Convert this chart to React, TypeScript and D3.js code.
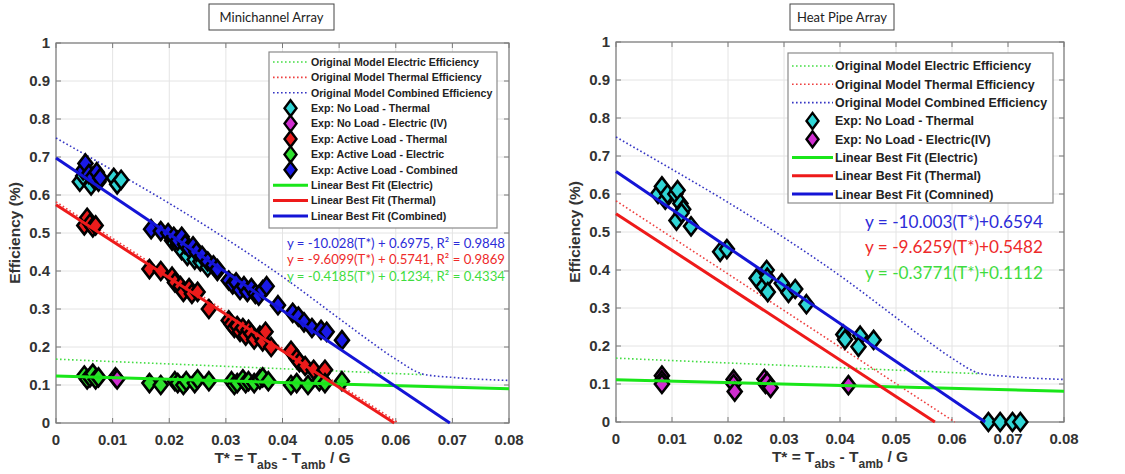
import React from 'react';
import * as d3 from 'd3';

type Pt = [number, number];

// ---------- axis ticks ----------
const xTickValues = [0, 0.01, 0.02, 0.03, 0.04, 0.05, 0.06, 0.07, 0.08];
const xTickLabels = ['0', '0.01', '0.02', '0.03', '0.04', '0.05', '0.06', '0.07', '0.08'];
const yTickValues = [0, 0.1, 0.2, 0.3, 0.4, 0.5, 0.6, 0.7, 0.8, 0.9, 1];
const yTickLabels = ['0', '0.1', '0.2', '0.3', '0.4', '0.5', '0.6', '0.7', '0.8', '0.9', '1'];

// ---------- original model curves (same in both panels) ----------
const modelElectric: Pt[] = [[0, 0.168], [0.065, 0.127]];
const modelThermal: Pt[] = [[0, 0.582], [0.0605, 0]];
const modelCombined: Pt[] = [
  [0, 0.75], [0.01, 0.665], [0.02, 0.578], [0.03, 0.485], [0.04, 0.385], [0.05, 0.275],
  [0.055, 0.22], [0.06, 0.168], [0.065, 0.128], [0.07, 0.12], [0.08, 0.112],
];

// ---------- Minichannel array data ----------
const miniNoLoadThermal: Pt[] = [
  [0.0042, 0.635], [0.0048, 0.65], [0.0062, 0.625], [0.0068, 0.64], [0.0075, 0.635],
  [0.0102, 0.645], [0.0108, 0.628], [0.0115, 0.64],
  [0.0205, 0.48], [0.0215, 0.47], [0.0222, 0.455], [0.0232, 0.44], [0.0245, 0.43],
  [0.0255, 0.425], [0.0268, 0.41], [0.0285, 0.40],
];
const miniNoLoadElectric: Pt[] = [[0.0105, 0.12], [0.0108, 0.115]];
const miniActiveThermal: Pt[] = [
  [0.005, 0.52], [0.0055, 0.54], [0.006, 0.525], [0.0065, 0.515], [0.007, 0.52],
  [0.0165, 0.405], [0.0185, 0.40], [0.0205, 0.385], [0.021, 0.37], [0.022, 0.36],
  [0.0225, 0.345], [0.0235, 0.355], [0.024, 0.34], [0.025, 0.345], [0.027, 0.30],
  [0.0305, 0.27], [0.031, 0.26], [0.0315, 0.25], [0.032, 0.255], [0.0325, 0.24],
  [0.033, 0.25], [0.0335, 0.23], [0.034, 0.245], [0.0345, 0.235], [0.035, 0.22],
  [0.036, 0.23], [0.0365, 0.215], [0.037, 0.24], [0.038, 0.20],
  [0.0415, 0.19], [0.0425, 0.17], [0.043, 0.16], [0.044, 0.15], [0.0455, 0.14],
  [0.047, 0.13], [0.0475, 0.14],
];
const miniActiveElectric: Pt[] = [
  [0.005, 0.125], [0.0055, 0.115], [0.006, 0.12], [0.0065, 0.13], [0.007, 0.115], [0.0075, 0.12],
  [0.0165, 0.105], [0.0185, 0.10], [0.021, 0.11], [0.0215, 0.105], [0.0225, 0.10],
  [0.023, 0.11], [0.0245, 0.105], [0.025, 0.115], [0.027, 0.11],
  [0.031, 0.11], [0.0315, 0.10], [0.032, 0.105], [0.033, 0.115], [0.0335, 0.105],
  [0.034, 0.11], [0.035, 0.105], [0.036, 0.115], [0.0365, 0.12], [0.0375, 0.11],
  [0.0415, 0.10], [0.0425, 0.105], [0.0445, 0.10], [0.0465, 0.11], [0.0475, 0.105], [0.0505, 0.11],
];
const miniActiveCombined: Pt[] = [
  [0.0048, 0.665], [0.0052, 0.683], [0.0058, 0.655], [0.0065, 0.648], [0.0072, 0.66], [0.0078, 0.645],
  [0.0168, 0.51], [0.0185, 0.505], [0.0198, 0.50], [0.0208, 0.49], [0.0215, 0.48],
  [0.0222, 0.49], [0.0228, 0.47], [0.0235, 0.46], [0.0242, 0.465], [0.0248, 0.45],
  [0.0258, 0.44], [0.0268, 0.425], [0.0278, 0.415], [0.0285, 0.405],
  [0.0305, 0.375], [0.0312, 0.365], [0.0318, 0.37], [0.0325, 0.35], [0.0332, 0.36],
  [0.0338, 0.345], [0.0345, 0.355], [0.0352, 0.34], [0.0358, 0.335], [0.0365, 0.35], [0.0372, 0.36],
  [0.0392, 0.31], [0.0418, 0.29], [0.0428, 0.28], [0.0438, 0.265], [0.0452, 0.25],
  [0.0468, 0.245], [0.0478, 0.24], [0.0505, 0.218],
];
// linear fits [slope, intercept]
const miniFitElectric: Pt = [-0.4185, 0.1234];
const miniFitThermal: Pt = [-9.6099, 0.5741];
const miniFitCombined: Pt = [-10.028, 0.6975];
const miniEquations = [
  'y = -10.028(T*) + 0.6975, R² = 0.9848',
  'y = -9.6099(T*) + 0.5741, R² = 0.9869',
  'y = -0.4185(T*) + 0.1234, R² = 0.4334',
];

// ---------- Heat pipe array data ----------
const heatNoLoadThermal: Pt[] = [
  [0.0075, 0.60], [0.0082, 0.62], [0.0088, 0.585], [0.0092, 0.60], [0.0106, 0.60],
  [0.011, 0.61], [0.0115, 0.575], [0.012, 0.56], [0.0108, 0.53], [0.0117, 0.55], [0.0134, 0.515],
  [0.0186, 0.448], [0.0198, 0.455], [0.0251, 0.378], [0.0263, 0.356], [0.0269, 0.40],
  [0.027, 0.38], [0.0271, 0.342], [0.0296, 0.365], [0.0308, 0.34], [0.032, 0.35], [0.034, 0.31],
  [0.0406, 0.23], [0.0409, 0.217], [0.0436, 0.227], [0.0433, 0.198], [0.046, 0.216],
  [0.0665, 0], [0.0686, 0], [0.0708, 0], [0.0722, 0],
];
const heatNoLoadElectric: Pt[] = [
  [0.0082, 0.122], [0.0082, 0.11], [0.0082, 0.10],
  [0.021, 0.112], [0.021, 0.10], [0.0212, 0.08],
  [0.0265, 0.113], [0.0267, 0.10], [0.027, 0.105], [0.0276, 0.09],
  [0.0415, 0.097],
];
const heatFitElectric: Pt = [-0.3771, 0.1112];
const heatFitThermal: Pt = [-9.6259, 0.5482];
const heatFitCombined: Pt = [-10.003, 0.6594];
const heatEquations = [
  'y = -10.003(T*)+0.6594',
  'y = -9.6259(T*)+0.5482',
  'y = -0.3771(T*)+0.1112',
];

// ---------- colours ----------
const COL = {
  green: '#19e619',
  red: '#ee1a1a',
  blue: '#1414d6',
  gDot: '#44dd44',
  rDot: '#ee4040',
  bDot: '#3535c4',
  cyan: '#30d5d5',
  magenta: '#d02ed0',
  mRed: '#ea1c1c',
  mGreen: '#2ee02e',
  mBlue: '#1a1ae8',
  eqBlue: '#2c2cd8',
  eqRed: '#ee2a2a',
  eqGreen: '#3fdc3f',
};

type LegendItem = { kind: 'dot' | 'marker' | 'line'; color: string; label: string };

const miniLegend: LegendItem[] = [
  { kind: 'dot', color: COL.gDot, label: 'Original Model Electric Efficiency' },
  { kind: 'dot', color: COL.rDot, label: 'Original Model Thermal Efficiency' },
  { kind: 'dot', color: COL.bDot, label: 'Original Model Combined Efficiency' },
  { kind: 'marker', color: COL.cyan, label: 'Exp: No Load - Thermal' },
  { kind: 'marker', color: COL.magenta, label: 'Exp: No Load - Electric (IV)' },
  { kind: 'marker', color: COL.mRed, label: 'Exp: Active Load - Thermal' },
  { kind: 'marker', color: COL.mGreen, label: 'Exp: Active Load - Electric' },
  { kind: 'marker', color: COL.mBlue, label: 'Exp: Active Load - Combined' },
  { kind: 'line', color: COL.green, label: 'Linear Best Fit (Electric)' },
  { kind: 'line', color: COL.red, label: 'Linear Best Fit (Thermal)' },
  { kind: 'line', color: COL.blue, label: 'Linear Best Fit (Combined)' },
];
const heatLegend: LegendItem[] = [
  { kind: 'dot', color: COL.gDot, label: 'Original Model Electric Efficiency' },
  { kind: 'dot', color: COL.rDot, label: 'Original Model Thermal Efficiency' },
  { kind: 'dot', color: COL.bDot, label: 'Original Model Combined Efficiency' },
  { kind: 'marker', color: COL.cyan, label: 'Exp: No Load - Thermal' },
  { kind: 'marker', color: COL.magenta, label: 'Exp: No Load - Electric(IV)' },
  { kind: 'line', color: COL.green, label: 'Linear Best Fit (Electric)' },
  { kind: 'line', color: COL.red, label: 'Linear Best Fit (Thermal)' },
  { kind: 'line', color: COL.blue, label: 'Linear Best Fit (Comnined)' },
];

const diamond = (hw: number, hh: number) => `M0,${-hh}L${hw},0L0,${hh}L${-hw},0Z`;

type PanelProps = {
  title: string;
  left: number; right: number; top: number; bottom: number;
  titleBox: { x: number; y: number; w: number; h: number };
  scatter: { data: Pt[]; fill: string }[];
  fits: { coef: Pt; color: string }[];
  legend: LegendItem[];
  legendBox: { x: number; y: number; w: number; h: number; row0: number; step: number; fs: number; lx0: number; lx1: number; tx: number };
  equations: string[];
  eqColors: string[];
  eqLayout: { xEnd: number; ys: number[]; fs: number; widths: number[] };
};

const FONT_AX = '"Liberation Sans", Arial, sans-serif';
const FONT_EQ = 'Lato, "Open Sans", sans-serif';

function Panel(p: PanelProps) {
  const x = d3.scaleLinear().domain([0, 0.08]).range([p.left, p.right]);
  const y = d3.scaleLinear().domain([0, 1]).range([p.bottom, p.top]);
  const straight = d3.line<Pt>().x((d) => x(d[0])).y((d) => y(d[1]));
  const smooth = d3.line<Pt>().x((d) => x(d[0])).y((d) => y(d[1])).curve(d3.curveMonotoneX);
  const fitPts = (c: Pt): Pt[] => {
    const root = -c[1] / c[0];
    const xe = root > 0 ? Math.min(0.08, root) : 0.08;
    return [[0, c[1]], [xe, c[0] * xe + c[1]]];
  };
  const lb = p.legendBox;
  const tickLen = 5;
  const dotDash = '1.6,2.4';
  return (
    <g>
      <rect x={p.left} y={p.top} width={p.right - p.left} height={p.bottom - p.top} fill="#fff" />
      {xTickValues.map((v, i) => (
        <line key={'gx' + i} x1={x(v)} x2={x(v)} y1={p.top} y2={p.bottom} stroke="#e4e4e4" strokeWidth={1} />
      ))}
      {yTickValues.map((v, i) => (
        <line key={'gy' + i} x1={p.left} x2={p.right} y1={y(v)} y2={y(v)} stroke="#e4e4e4" strokeWidth={1} />
      ))}
      {/* frame and ticks */}
      <rect x={p.left} y={p.top} width={p.right - p.left} height={p.bottom - p.top} fill="none" stroke="#7a7a7a" strokeWidth={1.2} />
      {xTickValues.map((v, i) => (
        <g key={'tx' + i}>
          <line x1={x(v)} x2={x(v)} y1={p.bottom} y2={p.bottom - tickLen} stroke="#7a7a7a" />
          <line x1={x(v)} x2={x(v)} y1={p.top} y2={p.top + tickLen} stroke="#7a7a7a" />
          <text x={x(v)} y={p.bottom + 22} textAnchor="middle" fontFamily={FONT_AX} fontWeight="bold" fontSize={15} fill="#333">
            {xTickLabels[i]}
          </text>
        </g>
      ))}
      {yTickValues.map((v, i) => (
        <g key={'ty' + i}>
          <line x1={p.left} x2={p.left + tickLen} y1={y(v)} y2={y(v)} stroke="#7a7a7a" />
          <line x1={p.right} x2={p.right - tickLen} y1={y(v)} y2={y(v)} stroke="#7a7a7a" />
          <text x={p.left - 6} y={y(v) + 5} textAnchor="end" fontFamily={FONT_AX} fontWeight="bold" fontSize={15} fill="#333">
            {yTickLabels[i]}
          </text>
        </g>
      ))}
      {/* model curves */}
      <path d={straight(modelElectric) || ''} fill="none" stroke={COL.gDot} strokeWidth={1.6} strokeDasharray={dotDash} />
      <path d={straight(modelThermal) || ''} fill="none" stroke={COL.rDot} strokeWidth={1.6} strokeDasharray={dotDash} />
      <path d={smooth(modelCombined) || ''} fill="none" stroke={COL.bDot} strokeWidth={1.6} strokeDasharray={dotDash} />
      {/* scatter */}
      {p.scatter.map((s, si) => (
        <g key={'s' + si}>
          {s.data.map((d, i) => (
            <path key={i} d={diamond(7, 9)} transform={`translate(${x(d[0])},${y(d[1])})`}
              fill={s.fill} stroke="#000" strokeWidth={2.6} strokeLinejoin="miter" />
          ))}
        </g>
      ))}
      {/* fits */}
      {p.fits.map((f, i) => (
        <path key={'f' + i} d={straight(fitPts(f.coef)) || ''} fill="none" stroke={f.color} strokeWidth={3} />
      ))}
      {/* axis labels */}
      <text transform={`translate(${p.left - 36},${y(0.5)}) rotate(-90)`} textAnchor="middle" fontFamily={FONT_AX}
        fontWeight="bold" fontSize={15.5} fill="#333">Efficiency (%)</text>
      <text x={(p.left + p.right) / 2} y={p.bottom + 40} textAnchor="middle" fontFamily={FONT_AX} fontWeight="bold" fontSize={15.5} fill="#333">
        T* = T<tspan fontSize={12} dy={5.5}>abs</tspan><tspan dy={-5.5}> - T</tspan><tspan fontSize={12} dy={5.5}>amb</tspan><tspan dy={-5.5}> / G</tspan>
      </text>
      {/* legend */}
      <rect x={lb.x} y={lb.y} width={lb.w} height={lb.h} fill="#fff" stroke="#8a8a8a" strokeWidth={1.2} />
      {p.legend.map((it, i) => {
        const yy = lb.row0 + i * lb.step;
        const mx = (lb.lx0 + lb.lx1) / 2;
        return (
          <g key={'lg' + i}>
            {it.kind === 'dot' && (
              <line x1={lb.lx0} x2={lb.lx1} y1={yy} y2={yy} stroke={it.color} strokeWidth={1.6} strokeDasharray={dotDash} />
            )}
            {it.kind === 'line' && (
              <line x1={lb.lx0} x2={lb.lx1} y1={yy} y2={yy} stroke={it.color} strokeWidth={3} />
            )}
            {it.kind === 'marker' && (
              <path d={diamond(6, 8)} transform={`translate(${mx},${yy})`} fill={it.color} stroke="#000" strokeWidth={2.4} />
            )}
            <text x={lb.tx} y={yy + lb.fs * 0.36} fontFamily={FONT_AX} fontWeight="bold" fontSize={lb.fs} fill="#222">
              {it.label}
            </text>
          </g>
        );
      })}
      {/* equations */}
      {p.equations.map((eq, i) => (
        <text key={'eq' + i} x={p.eqLayout.xEnd} y={p.eqLayout.ys[i] + p.eqLayout.fs * 0.35} textAnchor="end"
          fontFamily={FONT_EQ} fontSize={p.eqLayout.fs} fill={p.eqColors[i]}
          textLength={p.eqLayout.widths[i]} lengthAdjust="spacingAndGlyphs">
          {eq}
        </text>
      ))}
      {/* title box */}
      <rect x={p.titleBox.x} y={p.titleBox.y} width={p.titleBox.w} height={p.titleBox.h} fill="#fff" stroke="#444" strokeWidth={1} />
      <text x={p.titleBox.x + p.titleBox.w / 2} y={p.titleBox.y + p.titleBox.h / 2 + 4.5} textAnchor="middle"
        fontFamily={FONT_EQ} fontSize={13} fill="#222">{p.title}</text>
    </g>
  );
}

export default function App() {
  return (
    <svg width={1125} height={474} viewBox="0 0 1125 474"
      style={{ position: 'absolute', left: 0, top: 0, background: '#fff' }}>
      <rect x={0} y={0} width={1125} height={474} fill="#fff" />
      <Panel
        title="Minichannel Array"
        left={56} right={509} top={43} bottom={423}
        titleBox={{ x: 209, y: 4, w: 125, h: 26 }}
        scatter={[
          { data: miniNoLoadThermal, fill: COL.cyan },
          { data: miniNoLoadElectric, fill: COL.magenta },
          { data: miniActiveThermal, fill: COL.mRed },
          { data: miniActiveElectric, fill: COL.mGreen },
          { data: miniActiveCombined, fill: COL.mBlue },
        ]}
        fits={[
          { coef: miniFitElectric, color: COL.green },
          { coef: miniFitThermal, color: COL.red },
          { coef: miniFitCombined, color: COL.blue },
        ]}
        legend={miniLegend}
        legendBox={{ x: 269, y: 52, w: 228, h: 176, row0: 62, step: 15.4, fs: 10.6, lx0: 273, lx1: 308, tx: 311 }}
        equations={miniEquations}
        eqColors={[COL.eqBlue, COL.eqRed, COL.eqGreen]}
        eqLayout={{ xEnd: 505, ys: [243, 259.5, 276], fs: 14, widths: [218, 218, 218] }}
      />
      <Panel
        title="Heat Pipe Array"
        left={616} right={1064} top={42} bottom={422}
        titleBox={{ x: 790, y: 4, w: 104, h: 26 }}
        scatter={[
          { data: heatNoLoadThermal, fill: COL.cyan },
          { data: heatNoLoadElectric, fill: COL.magenta },
        ]}
        fits={[
          { coef: heatFitElectric, color: COL.green },
          { coef: heatFitThermal, color: COL.red },
          { coef: heatFitCombined, color: COL.blue },
        ]}
        legend={heatLegend}
        legendBox={{ x: 788, y: 53, w: 265, h: 150, row0: 66, step: 18.3, fs: 12.4, lx0: 792, lx1: 833, tx: 835 }}
        equations={heatEquations}
        eqColors={[COL.eqBlue, COL.eqRed, COL.eqGreen]}
        eqLayout={{ xEnd: 1043, ys: [222, 247, 273], fs: 18, widths: [178, 178, 178] }}
      />
    </svg>
  );
}
